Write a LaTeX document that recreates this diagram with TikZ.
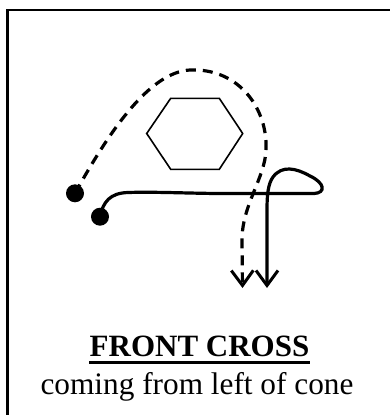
\documentclass[tikz,border=0pt]{standalone}
\usepackage{fontspec}
\setmainfont{Liberation Serif}
\usetikzlibrary{arrows.meta}
\tikzset{
  route/.style={line width=3.2pt, line cap=round},
  dashroute/.style={line width=3.2pt, dash pattern=on 10pt off 7pt},
  tip/.style={-{Straight Barb[length=15pt,width=22pt,line width=3pt]}},
  dot/.style={circle, fill=black, inner sep=0pt, minimum size=18pt},
  cone/.style={line width=1.6pt, line join=miter},
  frame/.style={line width=2.4pt}
}
\begin{document}
\begin{tikzpicture}[x=1pt,y=-1pt]
\useasboundingbox (0,0) rectangle (390,415);
\draw[frame] (7.5,416) -- (7.5,10) -- (391,10);
% cone
\draw[cone] (146.7,133.5) -- (170.7,98.3) -- (219.3,98.3) -- (242.7,133.5) -- (219.3,169.3) -- (170.7,169.3) -- cycle;
% start dots
\node[dot] (d1) at (75,193.3) {};
\node[dot] (d2) at (100,216.7) {};
\coordinate (e1) at (242.5,288);
\coordinate (e2) at (267,288);
% dashed route
\draw[dashroute, tip] (d1.center) .. controls (110,130) and (150,72) .. (190,70)
  .. controls (240,68) and (268,110) .. (266,150)
  .. controls (265,178) and (242,205) .. (242,240) -- (e1);
% solid route
\draw[route, tip] (d2.center) .. controls (103,202) and (110,193) .. (128,192.5)
  .. controls (160,191.5) and (200,194) .. (240,193.5) -- (314,193.5)
  .. controls (326,193) and (325,183) .. (310,176)
  .. controls (296,168) and (282,165) .. (273,177)
  .. controls (268,184) and (267,195) .. (267,210) -- (e2);
% captions
\node[anchor=base, inner sep=0pt, font=\fontsize{31}{36}\selectfont\bfseries] (t1) at (199.5,356.7) {FRONT CROSS};
\draw[line width=2.6pt] ([yshift=-6pt]t1.base west) -- ([yshift=-6pt]t1.base east);
\node[anchor=base, inner sep=0pt, font=\fontsize{31.3}{36}\selectfont] (t2) at (197,394.3) {coming from left of cone};
\end{tikzpicture}
\end{document}
